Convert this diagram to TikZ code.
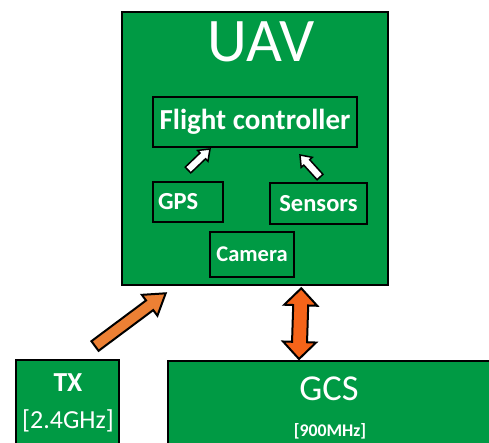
\documentclass[tikz,border=0pt]{standalone}
\usepackage{fontspec}
\setmainfont{Carlito}
\usepackage{tikz}
\usetikzlibrary{calc}
\definecolor{board}{RGB}{0,154,68}
\definecolor{uplink}{RGB}{236,128,52}
\definecolor{radio}{RGB}{245,100,25}
\newcommand{\fs}[1]{\fontsize{#1}{#1}\selectfont}
\tikzset{
  box/.style={draw=black,fill=board,line width=2pt,text=white,inner sep=0pt},
  title/.style={text=white,inner sep=0pt},
  along/.style={shift={(\p1)},rotate=\n1},
  % block arrow: shaft half width, head half width, head length
  onearrow/.style n args={3}{to path={let \p1=(\tikztostart),\p2=(\tikztotarget),
      \n1={atan2(\y2-\y1,\x2-\x1)},\n2={veclen(\x2-\x1,\y2-\y1)} in
      ([along]0pt,-#1) -- ([along]\n2-#3,-#1) -- ([along]\n2-#3,-#2) -- ([along]\n2+0pt,0pt)
      -- ([along]\n2-#3,#2) -- ([along]\n2-#3,#1) -- ([along]0pt,#1) -- cycle}},
  twoarrow/.style n args={3}{to path={let \p1=(\tikztostart),\p2=(\tikztotarget),
      \n1={atan2(\y2-\y1,\x2-\x1)},\n2={veclen(\x2-\x1,\y2-\y1)} in
      ([along]#3,-#1) -- ([along]\n2-#3,-#1) -- ([along]\n2-#3,-#2) -- ([along]\n2+0pt,0pt)
      -- ([along]\n2-#3,#2) -- ([along]\n2-#3,#1) -- ([along]#3,#1) -- ([along]#3,#2)
      -- ([along]0pt,0pt) -- ([along]#3,-#2) -- cycle}},
}
\begin{document}
\begin{tikzpicture}[x=1pt,y=-1pt,line join=miter]
  \useasboundingbox (0,0) rectangle (489,442);
  \clip (0,0) rectangle (489,442);
  % UAV and its parts
  \node[box,line width=2.5pt,minimum width=266pt,minimum height=273pt] (uav) at (255,148.5) {};
  \node[title,font=\fs{62}] (uavname) at (261,41.5) {UAV};
  \node[box,minimum width=204pt,minimum height=50pt,font=\bfseries\fs{29}] (fc) at (255,122) {Flight controller};
  \node[box,minimum width=70pt,minimum height=40pt,text width=60pt,align=left,font=\bfseries\fs{24.5}] (gps) at (188,202) {GPS};
  \node[box,minimum width=97pt,minimum height=41pt,font=\bfseries\fs{24.5}] (sensors) at (318.5,203.5) {Sensors};
  \node[box,minimum width=84pt,minimum height=45pt,font=\bfseries\fs{22.5}] (camera) at (252,254.5) {Camera};
  % ground side
  \node[box,minimum width=103pt,minimum height=120pt] (tx) at (67.5,420) {};
  \node[title,font=\bfseries\fs{27.5}] (txname) at (68,383) {TX};
  \node[title,font=\fs{26}] (txband) at (68,421) {[2.4GHz]};
  \node[box,minimum width=352pt,minimum height=120pt] (gcs) at (344,421) {};
  \node[title,font=\fs{36.5}] (gcsname) at (329,389) {GCS};
  \node[title,font=\bfseries\fs{17.8}] (gcsband) at (330,431) {[900MHz]};
  % arrow ends
  \coordinate (gpstail) at ($(gps.north)+(0,-11)$);
  \coordinate (gpstip) at ($(fc.south west)+(58,1)$);
  \coordinate (senstail) at ($(sensors.north)+(1.5,-5)$);
  \coordinate (senstip) at ($(fc.south east)+(-58,7)$);
  \coordinate (txtail) at ($(tx.north)+(27.5,-13)$);
  \coordinate (txtip) at ($(uav.south west)+(45,7)$);
  \coordinate (gcsup) at ($(uav.south east)+(-88,2)$);
  \coordinate (gcsdown) at ($(gcs.north west)+(132,-1)$);
  \foreach \a/\b in {gpstail/gpstip,senstail/senstip}
    \filldraw[fill=white,draw=black,line width=1.5pt] (\a) to[onearrow={4pt}{7.5pt}{10pt}] (\b);
  \filldraw[fill=uplink,draw=black,line width=2pt] (txtail) to[onearrow={6pt}{13pt}{20pt}] (txtip);
  \filldraw[fill=radio,draw=black,line width=2pt] (gcsdown) to[twoarrow={7.5pt}{16.5pt}{17pt}] (gcsup);
\end{tikzpicture}
\end{document}
